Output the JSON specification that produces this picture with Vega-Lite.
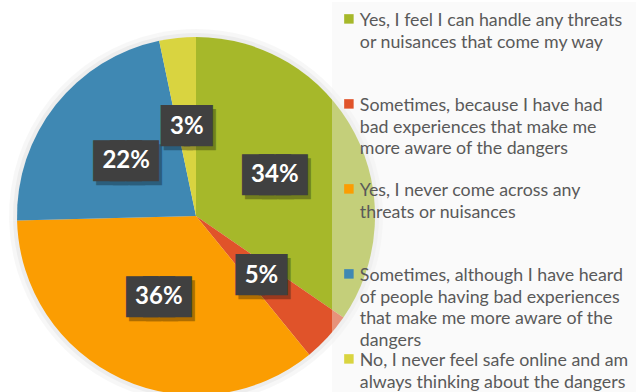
{
  "$schema": "https://vega.github.io/schema/vega-lite/v6.json",
  "width": 392,
  "height": 432,
  "autosize": {"type": "none"},
  "padding": {"left": 0, "top": 0, "right": 244, "bottom": 0},
  "background": "white",
  "config": {"view": {"stroke": null}},
  "data": {"values": [
    {"category": "Yes, I feel I can handle any threats or nuisances that come my way", "value": 34.6, "label": "34%"},
    {"category": "Sometimes, because I have had bad experiences that make me more aware of the dangers", "value": 4.5, "label": "5%"},
    {"category": "Yes, I never come across any threats or nuisances", "value": 35.5, "label": "36%"},
    {"category": "Sometimes, although I have heard of people having bad experiences that make me more aware of the dangers", "value": 22.1, "label": "22%"},
    {"category": "No, I never feel safe online and am always thinking about the dangers", "value": 3.3, "label": "3%"}
  ]},
  "transform": [{"window": [{"op": "row_number", "as": "idx"}]}],
  "encoding": {
    "theta": {"field": "value", "type": "quantitative", "stack": true},
    "order": {"field": "idx", "type": "quantitative"}
  },
  "layer": [
    {
      "mark": {"type": "arc", "outerRadius": 187, "fill": "#000", "opacity": 0.03},
      "encoding": {"detail": {"field": "category"}}
    },
    {
      "mark": {"type": "arc", "outerRadius": 183, "fill": "#000", "opacity": 0.04},
      "encoding": {"detail": {"field": "category"}}
    },
    {
      "mark": {"type": "arc", "outerRadius": 179},
      "encoding": {
        "color": {
          "field": "category",
          "type": "nominal",
          "sort": null,
          "scale": {
            "domain": [
              "Yes, I feel I can handle any threats or nuisances that come my way",
              "Sometimes, because I have had bad experiences that make me more aware of the dangers",
              "Yes, I never come across any threats or nuisances",
              "Sometimes, although I have heard of people having bad experiences that make me more aware of the dangers",
              "No, I never feel safe online and am always thinking about the dangers"
            ],
            "range": ["#A6B82A", "#E0532A", "#FB9D02", "#3F88B3", "#D9D440"]
          },
          "legend": {
            "orient": "none",
            "legendX": 332,
            "legendY": 2,
            "title": null,
            "padding": 8,
            "fillColor": "rgba(243,243,243,0.4)",
            "symbolType": "square",
            "symbolSize": 90,
            "symbolStrokeWidth": 0,
            "labelFont": "Lato",
            "labelFontSize": 17.8,
            "labelColor": "#595959",
            "labelLimit": 400,
            "labelOffset": 2,
            "labelBaseline": "top",
            "rowPadding": 0,
            "labelExpr": "indexof(datum.value, 'Yes, I feel') == 0 ? ['Yes, I feel I can handle any threats', 'or nuisances that come my way', '', ''] : indexof(datum.value, 'Sometimes, because') == 0 ? ['Sometimes, because I have had', 'bad experiences that make me', 'more aware of the dangers', ''] : indexof(datum.value, 'Yes, I never') == 0 ? ['Yes, I never come across any', 'threats or nuisances', '', ''] : indexof(datum.value, 'Sometimes, although') == 0 ? ['Sometimes, although I have heard', 'of people having bad experiences', 'that make me more aware of the', 'dangers'] : ['No, I never feel safe online and am', 'always thinking about the dangers', '', '']",
            "encode": {"labels": {"update": {"dy": {"value": -7}, "lineHeight": {"value": 21.7}}}}
          }
        }
      }
    },
    {
      "mark": {"type": "text", "radius": 89, "font": "DejaVu Sans", "fill": "#000", "stroke": "#000", "strokeJoin": "miter", "opacity": 0.3, "dx": 3, "dy": 4, "baseline": "middle", "align": "center"},
      "encoding": {
        "detail": {"field": "category"},
        "text": {"condition": {"test": "datum.value >= 9.5", "value": "███"}, "value": "██"},
        "size": {"condition": {"test": "datum.value >= 9.5", "value": 21.8}, "value": 29.7},
        "strokeWidth": {"condition": {"test": "datum.value >= 9.5", "value": 15.2}, "value": 5.9}
      }
    },
    {
      "mark": {"type": "text", "radius": 89, "font": "DejaVu Sans", "fill": "#404040", "stroke": "#404040", "strokeJoin": "miter", "baseline": "middle", "align": "center"},
      "encoding": {
        "detail": {"field": "category"},
        "text": {"condition": {"test": "datum.value >= 9.5", "value": "███"}, "value": "██"},
        "size": {"condition": {"test": "datum.value >= 9.5", "value": 21.8}, "value": 29.7},
        "strokeWidth": {"condition": {"test": "datum.value >= 9.5", "value": 15.2}, "value": 5.9}
      }
    },
    {
      "mark": {"type": "text", "radius": 89, "font": "Lato", "fontSize": 24, "fontWeight": "bold", "fill": "#ffffff", "baseline": "middle", "align": "center"},
      "encoding": {"detail": {"field": "category"}, "text": {"field": "label"}}
    }
  ]
}
